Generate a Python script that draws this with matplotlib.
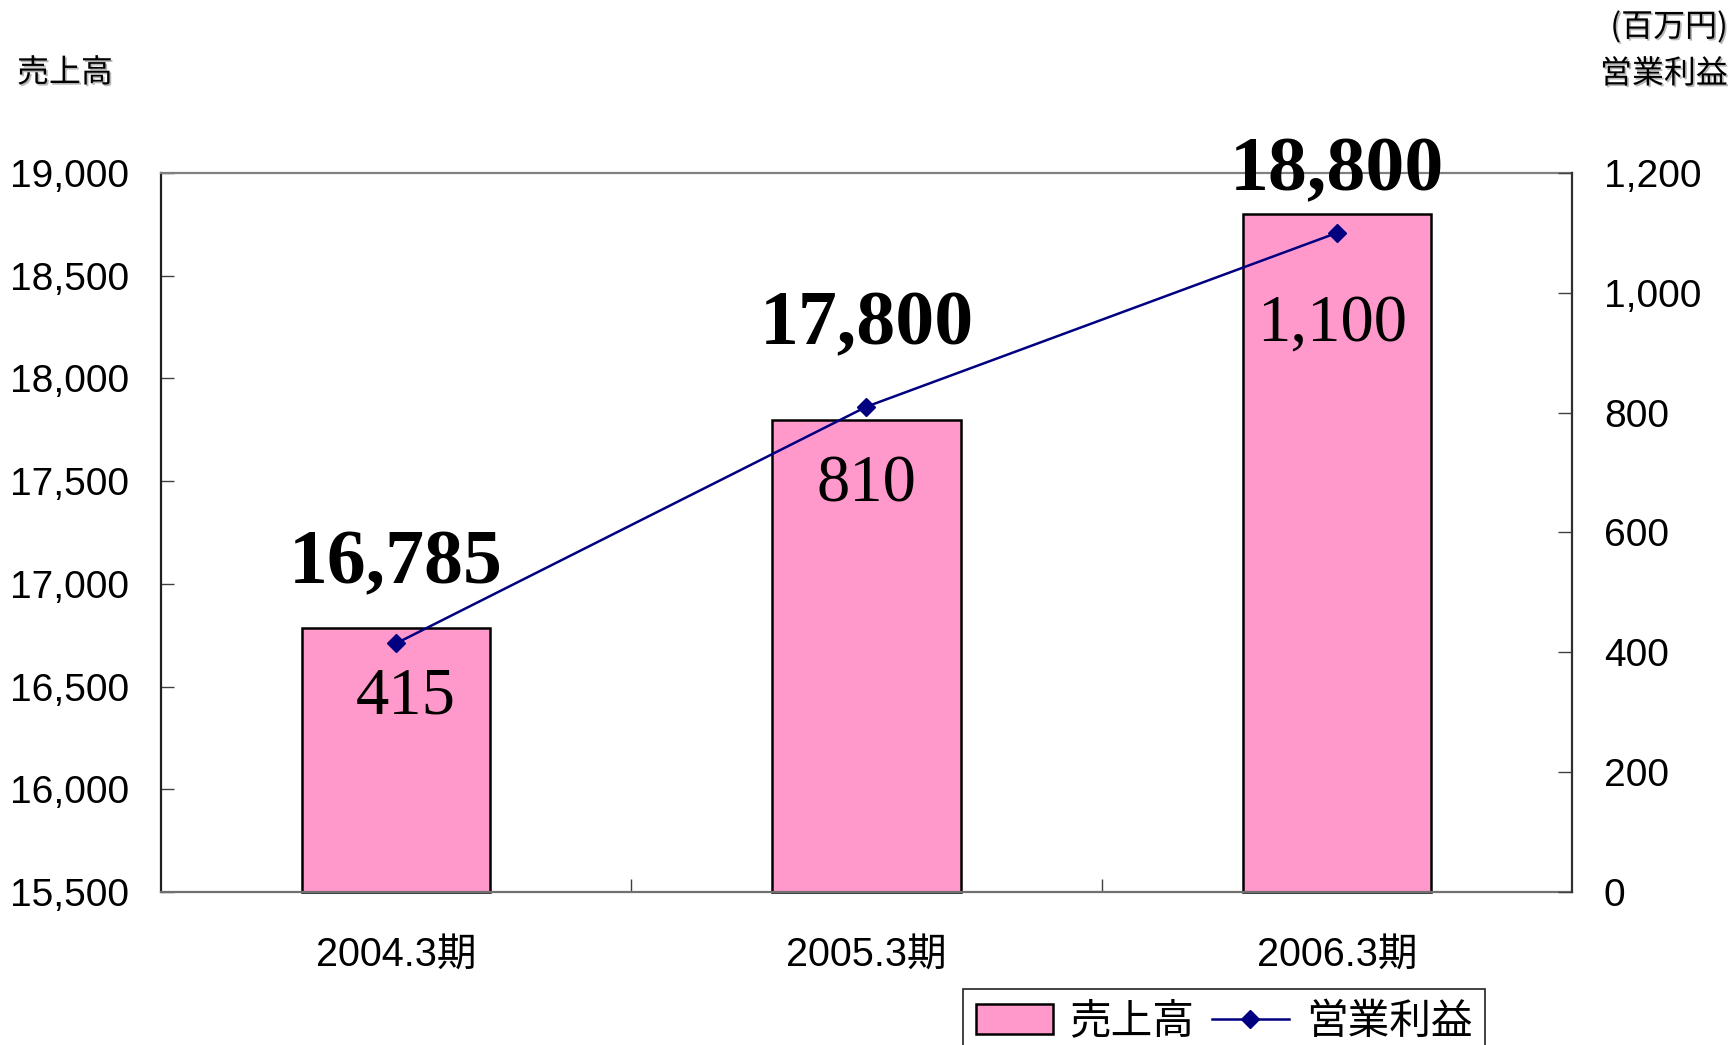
import matplotlib
matplotlib.use("Agg")
import matplotlib.pyplot as plt
import matplotlib.patheffects as pe
import numpy as np

plt.rcParams['font.family'] = ['Liberation Sans', 'Noto Sans CJK JP']

# ---- data ----
categories = ['2004.3期', '2005.3期', '2006.3期']
sales = [16785, 17800, 18800]          # 売上高 (left axis)
profit = [415, 810, 1100]              # 営業利益 (right axis)
sales_ticks = [15500, 16000, 16500, 17000, 17500, 18000, 18500, 19000]
profit_ticks = [0, 200, 400, 600, 800, 1000, 1200]

# ---- layout (label placement, left-axis data units) ----
sales_label_y = [17004, 18168, 18917]
profit_label_y = [16371, 17399, 18182]
profit_label_dx = [0.02, 0.0, -0.01]

W, H = 1731, 1045
fig = plt.figure(figsize=(W / 100, H / 100), dpi=100)
L, R, T, B = 161, 1572, 173, 892
ax = fig.add_axes([L / W, 1 - B / H, (R - L) / W, (B - T) / H])
ax2 = ax.twinx()

x = np.arange(len(categories))
base = sales_ticks[0]
bars = ax.bar(x, np.array(sales) - base, bottom=base, width=0.4,
              color='#FF99CC', edgecolor='black', linewidth=1.8,
              clip_on=False, zorder=2, label='売上高')
ax.set_xlim(-0.5, len(categories) - 0.5)
ax.set_ylim(sales_ticks[0], sales_ticks[-1])
ax.set_yticks(sales_ticks)
ax.set_yticklabels([f'{v:,}' for v in sales_ticks])

line, = ax2.plot(x, profit, color='#000080', linewidth=1.8, marker='D',
                 markersize=9, markerfacecolor='#000080',
                 markeredgecolor='#000080', zorder=3, label='営業利益')
ax2.set_ylim(profit_ticks[0], profit_ticks[-1])
ax2.set_yticks(profit_ticks)
ax2.set_yticklabels([f'{v:,}' for v in profit_ticks])

# spines
for s in ['left', 'top', 'bottom']:
    ax2.spines[s].set_visible(False)
ax.spines['right'].set_visible(False)
ax.spines['left'].set_color('#202020')
ax.spines['left'].set_linewidth(1.6)
ax.spines['top'].set_color('#808080')
ax.spines['top'].set_linewidth(1.6)
ax.spines['bottom'].set_color('#707070')
ax.spines['bottom'].set_linewidth(1.6)
ax2.spines['right'].set_color('#303030')
ax2.spines['right'].set_linewidth(1.6)

# ticks
ax.tick_params(axis='y', direction='in', length=9.4, width=1.0,
               color='#404040', labelsize=28, pad=23, labelcolor='black')
ax2.tick_params(axis='y', direction='in', length=10, width=1.0,
                color='#404040', labelsize=28, pad=23, labelcolor='black')
ax.set_xticks([0.5, 1.5])
ax.set_xticklabels([])
ax.tick_params(axis='x', direction='in', length=9.4, width=1.0, color='#404040')

# category labels
for xi, c in zip(x, categories):
    ax.text(xi, -0.1029, c, transform=ax.get_xaxis_transform(),
            ha='center', va='baseline', fontsize=28.5,
            family=['Liberation Sans', 'Noto Sans CJK JP'])

# value labels
for xi, v, ly in zip(x, sales, sales_label_y):
    ax.text(xi, ly, f'{v:,}', ha='center', va='baseline',
            family='Liberation Serif', weight='bold', fontsize=56, zorder=5)
for xi, v, ly, dx in zip(x, profit, profit_label_y, profit_label_dx):
    ax.text(xi + dx, ly, f'{v:,}', ha='center', va='baseline',
            family='Liberation Serif', fontsize=48, zorder=5)

ax2.set_zorder(ax.get_zorder() + 1)

# headers
shadow = [pe.withSimplePatchShadow(offset=(1.2, -1.2), shadow_rgbFace='#888888', alpha=0.6)]
fig.text(17 / W, 1 - 73 / H, '売上高', ha='left', va='center', fontsize=23,
         family='Noto Sans CJK JP', path_effects=shadow)
fig.text(1728 / W, 1 - 27 / H, '(百万円)', ha='right', va='center', fontsize=23,
         family='Noto Sans CJK JP', path_effects=shadow)
fig.text(1728 / W, 1 - 74 / H, '営業利益', ha='right', va='center', fontsize=23,
         family='Noto Sans CJK JP', path_effects=shadow)

# legend
leg = fig.legend([bars, line], ['売上高', '営業利益'], loc='upper center',
                 bbox_to_anchor=(1224 / W, 1 - 989 / H), ncol=2,
                 prop={'family': 'Noto Sans CJK JP', 'size': 30},
                 frameon=True, fancybox=False, framealpha=1, edgecolor='#222222',
                 borderpad=0.3, borderaxespad=0, handlelength=1.85,
                 handletextpad=0.4, columnspacing=0.42, numpoints=1)
leg.get_frame().set_linewidth(1.2)

fig.savefig('out.png', dpi=100)
